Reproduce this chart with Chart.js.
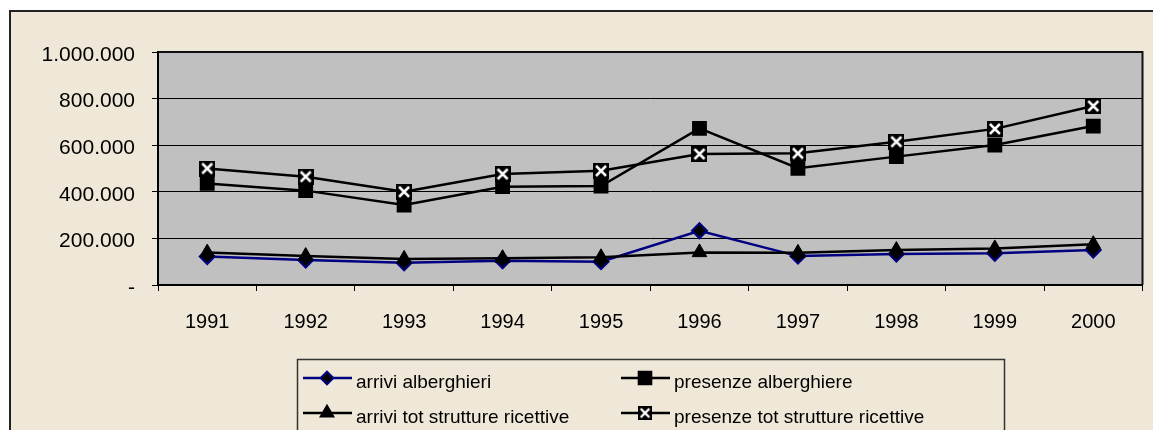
<!DOCTYPE html>
<html>
<head>
<meta charset="utf-8">
<script src="https://cdn.jsdelivr.net/npm/chart.js@4/dist/chart.umd.min.js"></script>
<style>
  html, body { margin: 0; padding: 0; background: #fff; }
  #wrap { width: 1153px; height: 430px; position: relative; }
</style>
</head>
<body>
<div id="wrap"><canvas id="grafico" width="1153" height="430"></canvas></div>
<script>
// anni e serie
const anni = ['1991', '1992', '1993', '1994', '1995', '1996', '1997', '1998', '1999', '2000'];
const arriviAlberghieri = [122000, 107000, 95000, 104000, 100000, 233000, 124000, 133000, 136000, 150000];
const presenzeAlberghiere = [436000, 405000, 343000, 422000, 425000, 672000, 501000, 551000, 601000, 682000];
const arriviTot = [139000, 124000, 112000, 115000, 119000, 140000, 138000, 150000, 157000, 175000];
const presenzeTot = [500000, 465000, 400000, 476000, 490000, 562000, 565000, 615000, 670000, 768000];
const tickY = [0, 200000, 400000, 600000, 800000, 1000000];

const FONT = '"Liberation Sans", Arial, sans-serif';

// marker quadrato nero con X bianca
let marcaX = document.createElement('canvas');
marcaX.width = 16; marcaX.height = 16;
(function () {
  let c = marcaX.getContext('2d');
  c.fillStyle = '#000';
  c.fillRect(0, 0, 16, 16);
  c.strokeStyle = '#fff';
  c.lineWidth = 2.5;
  c.beginPath();
  c.moveTo(3, 3); c.lineTo(13, 13);
  c.moveTo(13, 3); c.lineTo(3, 13);
  c.stroke();
})();

let formatta = (v) => v === 0 ? '-' : String(v).replace(/\B(?=(\d{3})+(?!\d))/g, '.');

const sfondo = {
  id: 'sfondo',
  beforeDraw(chart) {
    const ctx = chart.ctx;
    const a = chart.chartArea;
    ctx.save();
    ctx.fillStyle = '#fff';
    ctx.fillRect(0, 0, chart.width, chart.height);
    ctx.fillStyle = '#EFE8D8';
    ctx.fillRect(9, 10, chart.width - 9, chart.height - 10);
    ctx.strokeStyle = '#222';
    ctx.lineWidth = 2;
    ctx.beginPath();
    ctx.moveTo(10, chart.height); ctx.lineTo(10, 11); ctx.lineTo(chart.width, 11);
    ctx.stroke();
    ctx.fillStyle = '#C0C0C0';
    ctx.fillRect(a.left, a.top, a.right - a.left, a.bottom - a.top);
    ctx.restore();
  },
  beforeDatasetsDraw(chart) {
    const ctx = chart.ctx;
    const a = chart.chartArea;
    ctx.save();
    ctx.strokeStyle = '#111';
    ctx.lineWidth = 2;
    ctx.beginPath();
    ctx.moveTo(a.left, a.top); ctx.lineTo(a.right, a.top); ctx.lineTo(a.right, a.bottom);
    ctx.stroke();
    ctx.restore();
  }
};

// legenda a due colonne dentro un riquadro
const legenda = {
  id: 'legenda',
  afterDraw(chart) {
    const ctx = chart.ctx;
    ctx.save();
    ctx.strokeStyle = '#333';
    ctx.lineWidth = 1.5;
    ctx.strokeRect(297.5, 359.5, 707, 80);
    const pos = [[303, 378], [621, 378], [303, 413], [621, 413]];
    chart.data.datasets.forEach((ds, i) => {
      const [x, y] = pos[i];
      ctx.strokeStyle = ds.borderColor;
      ctx.lineWidth = 2.5;
      ctx.beginPath();
      ctx.moveTo(x, y); ctx.lineTo(x + 49, y);
      ctx.stroke();
      if (ds.pointStyle === marcaX) {
        ctx.drawImage(marcaX, x + 24 - 7, y - 7, 14, 14);
      } else {
        ctx.fillStyle = ds.pointBackgroundColor;
        ctx.strokeStyle = ds.pointBorderColor;
        ctx.lineWidth = 2;
        Chart.helpers.drawPoint(ctx, { pointStyle: ds.pointStyle, radius: ds.pointRadius * 0.85, borderWidth: 2 }, x + 24, y);
      }
      ctx.fillStyle = '#000';
      ctx.font = '19px ' + FONT;
      ctx.textBaseline = 'alphabetic';
      ctx.fillText(ds.label, x + 53, y + 10);
    });
    ctx.restore();
  }
};

new Chart(document.getElementById('grafico'), {
  type: 'line',
  data: {
    labels: anni,
    datasets: [
      {
        label: 'arrivi alberghieri',
        data: arriviAlberghieri,
        borderColor: '#000080',
        borderWidth: 2.5,
        pointStyle: 'rectRot',
        pointRadius: 7.5,
        pointBackgroundColor: '#000',
        pointBorderColor: '#000080',
        pointBorderWidth: 2,
        order: 2
      },
      {
        label: 'presenze alberghiere',
        data: presenzeAlberghiere,
        borderColor: '#000',
        borderWidth: 2.5,
        pointStyle: 'rect',
        pointRadius: 10.5,
        pointBackgroundColor: '#000',
        pointBorderColor: '#000',
        pointBorderWidth: 0,
        order: 3
      },
      {
        label: 'arrivi tot strutture ricettive',
        data: arriviTot,
        borderColor: '#000',
        borderWidth: 2.5,
        pointStyle: 'triangle',
        pointRadius: 8.5,
        pointBackgroundColor: '#000',
        pointBorderColor: '#000',
        pointBorderWidth: 1,
        order: 1
      },
      {
        label: 'presenze tot strutture ricettive',
        data: presenzeTot,
        borderColor: '#000',
        borderWidth: 2.5,
        pointStyle: marcaX,
        pointRadius: 8,
        pointBackgroundColor: '#000',
        pointBorderColor: '#000',
        order: 0
      }
    ]
  },
  options: {
    responsive: false,
    animation: false,
    layout: { padding: { top: 52, right: 10, left: 0, bottom: 0 } },
    plugins: {
      legend: { display: false },
      tooltip: { enabled: false }
    },
    elements: { line: { tension: 0 } },
    scales: {
      x: {
        offset: true,
        afterFit: (s) => { s.height = 145; },
        grid: { offset: true, drawOnChartArea: false, drawTicks: true, tickLength: 6, color: '#000' },
        border: { color: '#000', width: 2 },
        ticks: { color: '#000', font: { family: FONT, size: 20 }, padding: 19, maxRotation: 0 }
      },
      y: {
        min: 0,
        max: 1000000,
        afterFit: (s) => { s.width = 158; },
        afterBuildTicks: (s) => { s.ticks = tickY.map(v => ({ value: v })); },
        grid: { color: '#000', lineWidth: 1, drawTicks: true, tickLength: 6 },
        border: { color: '#000', width: 2 },
        ticks: { color: '#000', font: { family: FONT, size: 21 }, padding: 17, labelOffset: 3, callback: (v) => formatta(v) }
      }
    }
  },
  plugins: [sfondo, legenda]
});
</script>
</body>
</html>
